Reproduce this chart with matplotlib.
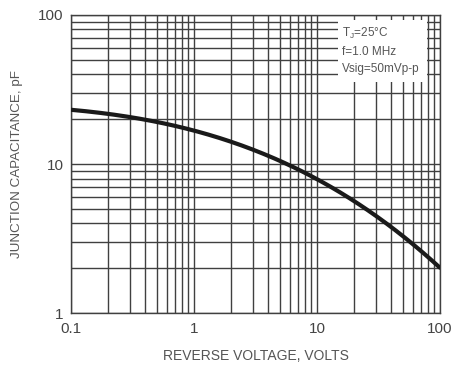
import numpy as np
import matplotlib.pyplot as plt
from matplotlib.patches import Rectangle
from matplotlib.ticker import LogLocator, NullFormatter

# curve (reverse voltage V, capacitance pF)
volts = [0.1, 0.2, 0.5, 1, 2, 5, 10, 20, 50, 100]
cap_pf = [23.4, 21.3, 19.1, 16.9, 14.1, 10.6, 7.9, 5.7, 3.2, 2.05]

x_ticks = [0.1, 1, 10, 100]
x_labels = ["0.1", "1", "10", "100"]
y_ticks = [1, 10, 100]
y_labels = ["1", "10", "100"]
notes = ["T$_J$=25°C", "f=1.0 MHz", "Vsig=50mVp-p"]

plt.rcParams['font.family'] = ['Liberation Sans', 'DejaVu Sans']
plt.rcParams['mathtext.fontset'] = 'custom'
plt.rcParams['mathtext.rm'] = 'Liberation Sans'
plt.rcParams['mathtext.it'] = 'Liberation Sans'

fig = plt.figure(figsize=(4.53, 3.65), dpi=100)
ax = fig.add_axes([0.157, 0.142, 0.814, 0.817])

ax.set_xscale('log')
ax.set_yscale('log')
ax.set_xlim(0.1, 100)
ax.set_ylim(1, 100)

ax.set_xticks(x_ticks)
ax.set_xticklabels(x_labels)
ax.set_yticks(y_ticks)
ax.set_yticklabels(y_labels)
for axis in (ax.xaxis, ax.yaxis):
    axis.set_minor_locator(LogLocator(base=10, subs=range(2, 10)))
    axis.set_minor_formatter(NullFormatter())

grid_col = '#404040'
ax.grid(True, which='both', color=grid_col, linewidth=1.0)
ax.set_axisbelow(True)

# white box for the test conditions, covering the grid
ax.add_patch(Rectangle((0.724, 0.775), 0.24, 0.207, transform=ax.transAxes,
                       facecolor='white', edgecolor='none', zorder=1.5))
ax.text(0.735, 0.962, "\n".join(notes), transform=ax.transAxes, va='top', ha='left',
        fontsize=8.5, color='#555555', linespacing=1.55, zorder=3)

# smooth curve through the read points in log space
lx = np.log10(volts)
ly = np.log10(cap_pf)
xs = np.linspace(lx[0], lx[-1], 200)
coef = np.polyfit(lx, ly, 3)
ax.plot(10 ** xs, 10 ** np.polyval(coef, xs), color='#1a1a1a', linewidth=3,
        solid_capstyle='round', zorder=4)

ax.tick_params(which='both', length=0)
ax.tick_params(axis='x', labelsize=11, labelcolor='#444444', pad=6.5)
ax.tick_params(axis='y', labelsize=11, labelcolor='#444444', pad=5.5)

for s in ax.spines.values():
    s.set_color(grid_col)
    s.set_linewidth(1.0)

ax.set_xlabel("REVERSE VOLTAGE, VOLTS", fontsize=10, color='#555555', labelpad=9)
ax.set_ylabel("JUNCTION CAPACITANCE, pF", fontsize=9.6, color='#555555', labelpad=11)

fig.savefig("out.png", dpi=100)
